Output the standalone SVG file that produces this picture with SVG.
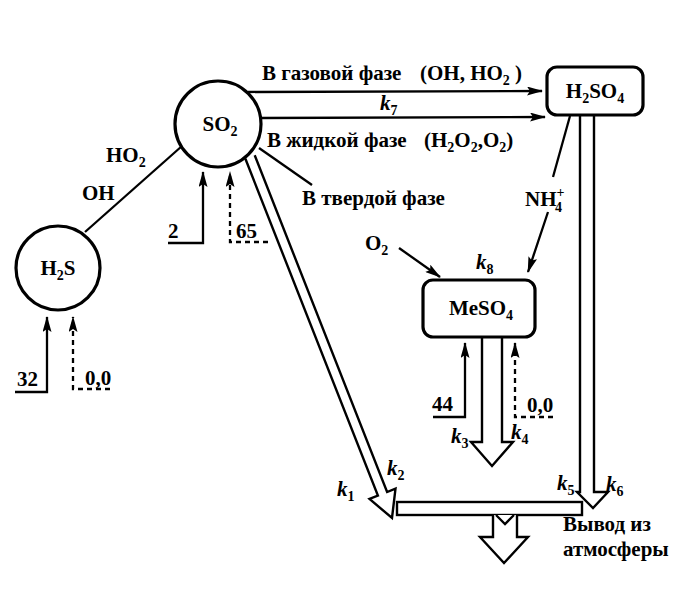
<svg xmlns="http://www.w3.org/2000/svg" width="682" height="593" viewBox="0 0 682 593">
<style>
text{font-family:"Liberation Serif","Times New Roman",serif;font-weight:bold;font-size:21px;fill:#000}
.sub{font-size:14px}
.k{font-style:italic}
.ln{fill:none;stroke:#000;stroke-width:2.3}
.dash{fill:none;stroke:#000;stroke-width:2.3;stroke-dasharray:5,4}
.hol{fill:#fff;stroke:#000;stroke-width:2.4;stroke-linejoin:miter}
.node{fill:#fff;stroke:#000;stroke-width:3.2}
</style>
<defs>
<marker id="ah" viewBox="0 0 16 9" refX="15" refY="4.5" markerWidth="16" markerHeight="9" markerUnits="userSpaceOnUse" orient="auto">
<path d="M0,0 L16,4.5 L0,9 L3,4.5 z" fill="#000"/>
</marker>
</defs>
<rect width="682" height="593" fill="#fff"/>
<g id="connectors">
<line class="ln" x1="248" y1="92" x2="542" y2="91" marker-end="url(#ah)"/>
<line class="ln" x1="260" y1="118" x2="545" y2="117" marker-end="url(#ah)"/>
<line class="ln" x1="259" y1="148" x2="312" y2="185"/>
<line class="ln" x1="85" y1="232" x2="182" y2="146"/>
<polyline class="ln" points="168,243 203,243 203,172" marker-end="url(#ah)"/>
<polyline class="dash" points="268,242 230,242 230,172" marker-end="url(#ah)"/>
<polyline class="ln" points="15,392 47,392 47,317" marker-end="url(#ah)"/>
<polyline class="dash" points="110,389 73,389 73,317" marker-end="url(#ah)"/>
<polyline class="ln" points="433,417 465,417 465,343" marker-end="url(#ah)"/>
<polyline class="dash" points="553,417 515,417 515,343" marker-end="url(#ah)"/>
<line class="ln" x1="399" y1="248" x2="440" y2="277" marker-end="url(#ah)"/>
<line class="ln" x1="570" y1="116" x2="553" y2="177"/>
<line class="ln" x1="548" y1="212" x2="528" y2="272" marker-end="url(#ah)"/>
<path class="hol" d="M245.4,158.8 L377.9,495.6 L369.5,498.9 L392,518 L395.5,488.7 L387.1,492 L254.7,155.2"/>
<path class="hol" d="M482,337 L482,442 L471,442 L492,466 L513,442 L502,442 L502,337"/>
<path class="hol" d="M580,115 L580,492 L577,492 L593,508 L608,492 L594,492 L594,115"/>
<rect class="hol" x="397" y="502" width="185" height="13"/>
<path class="hol" d="M493,515 L493,537 L480,537 L504,563 L528,537 L517,537 L517,515"/>
<polyline class="ln" points="496,515 505,524 514,515"/>
</g>
<g id="node-so2">
<circle class="node" cx="218" cy="124" r="43"/>
<text x="220" y="131" text-anchor="middle">SO<tspan class="sub" dy="5">2</tspan></text>
</g>
<g id="node-h2s">
<circle class="node" cx="58" cy="268" r="42"/>
<text x="58" y="275" text-anchor="middle">H<tspan class="sub" dy="5">2</tspan><tspan dy="-5">S</tspan></text>
</g>
<g id="node-h2so4">
<rect class="node" x="547" y="67" width="96" height="48" rx="10"/>
<text x="595" y="98" text-anchor="middle">H<tspan class="sub" dy="5">2</tspan><tspan dy="-5">SO</tspan><tspan class="sub" dy="5">4</tspan></text>
</g>
<g id="node-meso4">
<rect class="node" x="423" y="280" width="112" height="57" rx="10"/>
<text x="481" y="315" text-anchor="middle">MeSO<tspan class="sub" dy="5">4</tspan></text>
</g>
<g id="labels">
<text x="262" y="80">В газовой фазе</text>
<text x="420" y="80">(OH,  HO<tspan class="sub" dy="5">2</tspan><tspan dy="-5"> )</tspan></text>
<text x="380" y="110"><tspan class="k">k</tspan><tspan class="sub" dy="5">7</tspan></text>
<text x="267" y="147">В жидкой фазе</text>
<text x="424" y="147">(H<tspan class="sub" dy="5">2</tspan><tspan dy="-5">O</tspan><tspan class="sub" dy="5">2</tspan><tspan dy="-5">,O</tspan><tspan class="sub" dy="5">2</tspan><tspan dy="-5">)</tspan></text>
<text x="302" y="205">В твердой фазе</text>
<text x="106" y="162">HO<tspan class="sub" dy="5">2</tspan></text>
<text x="82" y="200">OH</text>
<text x="168" y="238">2</text>
<text x="236" y="238">65</text>
<text x="17" y="386">32</text>
<text x="85" y="385">0,0</text>
<text x="365" y="250">O<tspan class="sub" dy="5">2</tspan></text>
<text x="476" y="269"><tspan class="k">k</tspan><tspan class="sub" dy="5">8</tspan></text>
<text x="525" y="206">NH<tspan class="sub" dy="-9">+</tspan></text>
<text x="555" y="212" class="sub">4</text>
<text x="432" y="411">44</text>
<text x="527" y="412">0,0</text>
<text x="451" y="443"><tspan class="k">k</tspan><tspan class="sub" dy="5">3</tspan></text>
<text x="511" y="439"><tspan class="k">k</tspan><tspan class="sub" dy="5">4</tspan></text>
<text x="337" y="496"><tspan class="k">k</tspan><tspan class="sub" dy="5">1</tspan></text>
<text x="387" y="475"><tspan class="k">k</tspan><tspan class="sub" dy="5">2</tspan></text>
<text x="557" y="490"><tspan class="k">k</tspan><tspan class="sub" dy="5">5</tspan></text>
<text x="606" y="491"><tspan class="k">k</tspan><tspan class="sub" dy="5">6</tspan></text>
<text x="563" y="531">Вывод из</text>
<text x="563" y="556">атмосферы</text>
</g>
</svg>
